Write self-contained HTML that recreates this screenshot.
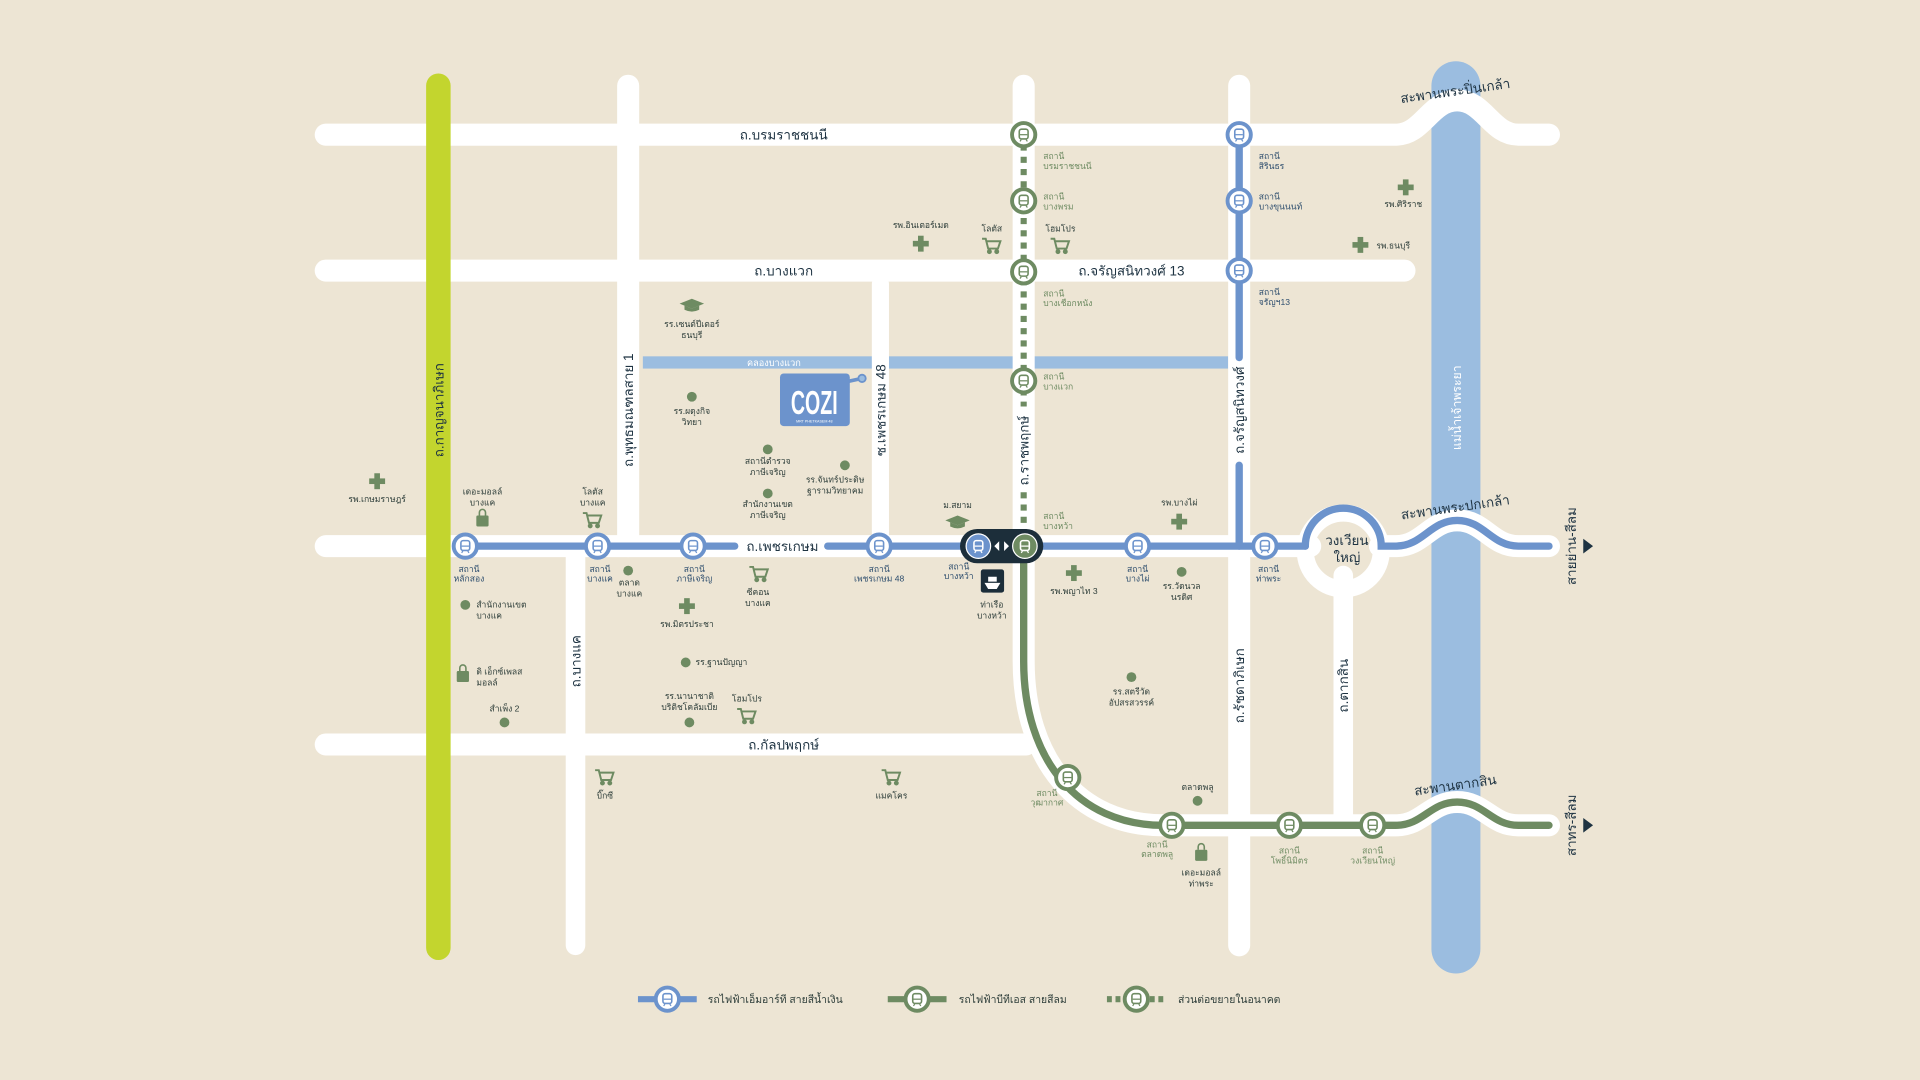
<!DOCTYPE html>
<html><head><meta charset="utf-8">
<style>
html,body{margin:0;padding:0;background:#EDE5D4;}
svg{display:block;}
text{font-family:"Liberation Sans","Noto Sans CJK SC",sans-serif;}
.rd{fill:#1E3342;font-size:11px;}
.st{fill:#6E8B62;font-size:7px;}
.sb{fill:#2E4E6E;font-size:7px;}
.pl{fill:#2E3E3A;font-size:7px;}
</style></head>
<body>
<svg width="1920" height="1080" viewBox="0 0 1568 882" xmlns="http://www.w3.org/2000/svg">
<defs>
<g id="tr"><rect x="-3.6" y="-4.5" width="7.2" height="8" rx="1.8" fill="none" stroke-width="1.3"/><line x1="-3" y1="0" x2="3" y2="0" stroke-width="1"/><line x1="-2" y1="4" x2="-3" y2="5.5" stroke-width="1"/><line x1="2" y1="4" x2="3" y2="5.5" stroke-width="1"/></g>
<g id="sb"><circle r="9.5" fill="#fff" stroke="#6C93CC" stroke-width="3.2"/><use href="#tr" stroke="#6C93CC"/></g>
<g id="sg"><circle r="9.5" fill="#fff" stroke="#6E8B62" stroke-width="3.2"/><use href="#tr" stroke="#6E8B62"/></g>
<g id="cross"><rect x="-2.3" y="-6.5" width="4.6" height="13" fill="#6E8B62"/><rect x="-6.5" y="-2.3" width="13" height="4.6" fill="#6E8B62"/></g>
<g id="cart" fill="none" stroke="#6E8B62" stroke-width="1.6"><path d="M-8 -5 H-5 L-3 3 H5 L7 -3 H-4"/><circle cx="-2" cy="5.5" r="1.2" fill="#6E8B62"/><circle cx="4" cy="5.5" r="1.2" fill="#6E8B62"/></g>
<g id="bag"><rect x="-5" y="-3" width="10" height="9" rx="1" fill="#6E8B62"/><path d="M-2.5 -3 V-5.5 A2.5 2.5 0 0 1 2.5 -5.5 V-3" fill="none" stroke="#6E8B62" stroke-width="1.3"/></g>
<g id="cap"><path d="M-10 0 L0 -4 L10 0 L0 4Z" fill="#6E8B62"/><path d="M-6 1.5 V5 Q0 8 6 5 V1.5 L0 4Z" fill="#6E8B62"/></g>
</defs>
<rect width="1568" height="882" fill="#EDE5D4"/>

<line x1="1189" y1="70" x2="1189" y2="775" stroke="#9BBDE0" stroke-width="40" stroke-linecap="round"/>
<text transform="translate(1193,333) rotate(-90)" text-anchor="middle" fill="#fff" font-size="10">แม่น้ำเจ้าพระยา</text>

<rect x="525" y="291" width="478" height="10" fill="#9BBDE0"/>
<text x="632" y="299" text-anchor="middle" fill="#fff" font-size="7.5">คลองบางแวก</text>

<g stroke="#fff" stroke-linecap="round" fill="none">
<path d="M266 110 H1140 C1162 110 1168 82 1190 82 C1212 82 1218 110 1240 110 H1265" stroke-width="18"/>
<path d="M266 221 H1147" stroke-width="18"/>
<path d="M266 446 H1070" stroke-width="18"/>
<path d="M266 608 H838" stroke-width="18"/>
<path d="M513 70 V446" stroke-width="18"/>
<path d="M470 446 V772" stroke-width="16"/>
<path d="M719 232 V446" stroke-width="14"/>
<path d="M836 70 V446" stroke-width="18"/>
<path d="M1012 70 V772" stroke-width="18"/>
<path d="M1097 470 V670" stroke-width="16"/>
<circle cx="1097" cy="450" r="31" stroke-width="14"/>
<path d="M1127 446 H1140 C1162 446 1168 425 1190 425 C1212 425 1218 446 1240 446 H1265" stroke-width="18"/>
<path d="M836 446 V540 C836 620 880 674 950 674 H1140 C1162 674 1168 655 1190 655 C1212 655 1218 674 1240 674 H1265" stroke-width="18"/>
</g>
<rect x="600" y="438" width="76" height="16" fill="#fff"/>

<line x1="358" y1="70" x2="358" y2="774" stroke="#C3D52E" stroke-width="20" stroke-linecap="round"/>

<g stroke="#6C93CC" stroke-width="6" fill="none" stroke-linecap="round">
<path d="M380 446 H600"/><path d="M676 446 H1066"/>
<path d="M1066 446 A31 31 0 0 1 1128 446 H1140 C1162 446 1168 425 1190 425 C1212 425 1218 446 1240 446 H1265"/>
<path d="M1012 110 V292"/><path d="M1012 380 V446"/>
</g>
<g stroke="#6E8B62" stroke-width="6" fill="none" stroke-linecap="round">
<path d="M836 446 V540 C836 620 880 674 950 674 H1140 C1162 674 1168 655 1190 655 C1212 655 1218 674 1240 674 H1265"/>
</g>
<path d="M836 118 V332 M836 402 V436" stroke="#6E8B62" stroke-width="5" stroke-dasharray="5,5" fill="none"/>
<path d="M1293 440 L1301 446 L1293 452Z M1293 668 L1301 674 L1293 680Z" fill="#1E3342"/>

<use href="#sb" x="380" y="446"/><use href="#sb" x="488" y="446"/><use href="#sb" x="566" y="446"/>
<use href="#sb" x="718" y="446"/><use href="#sb" x="929" y="446"/><use href="#sb" x="1033" y="446"/>
<use href="#sb" x="1012" y="110"/><use href="#sb" x="1012" y="164"/><use href="#sb" x="1012" y="221"/>
<use href="#sg" x="836" y="110"/><use href="#sg" x="836" y="164"/><use href="#sg" x="836" y="222"/><use href="#sg" x="836" y="311"/>
<use href="#sg" x="872" y="635"/><use href="#sg" x="957" y="674"/><use href="#sg" x="1053" y="674"/><use href="#sg" x="1121" y="674"/>
<rect x="784" y="432" width="68" height="28" rx="14" fill="#1C2E3A"/>
<circle cx="799" cy="446" r="10" fill="#6C93CC" stroke="#fff" stroke-width="1"/><use href="#tr" x="799" y="446" stroke="#fff"/>
<circle cx="837" cy="446" r="10" fill="#6E8B62" stroke="#fff" stroke-width="1"/><use href="#tr" x="837" y="446" stroke="#fff"/>
<path d="M816 442 L812 446 L816 450Z M820 442 L824 446 L820 450Z" fill="#fff"/>
<rect x="801" y="465" width="19" height="19" rx="2" fill="#1C2E3A"/>
<path d="M804 476 H817 L814 481 H807Z M807 475 V471 H814 V475" fill="#fff"/>

<text x="640" y="114" class="rd" text-anchor="middle">ถ.บรมราชชนนี</text>
<text x="640" y="225" class="rd" text-anchor="middle">ถ.บางแวก</text>
<text x="924" y="225" class="rd" text-anchor="middle">ถ.จรัญสนิทวงศ์ 13</text>
<text x="639" y="450" class="rd" text-anchor="middle">ถ.เพชรเกษม</text>
<text x="640" y="612" class="rd" text-anchor="middle">ถ.กัลปพฤกษ์</text>
<text transform="translate(362,335) rotate(-90)" class="rd" text-anchor="middle">ถ.กาญจนาภิเษก</text>
<text transform="translate(517,335) rotate(-90)" class="rd" text-anchor="middle">ถ.พุทธมณฑลสาย 1</text>
<text transform="translate(474,540) rotate(-90)" class="rd" text-anchor="middle">ถ.บางแค</text>
<text transform="translate(723,335) rotate(-90)" class="rd" text-anchor="middle">ซ.เพชรเกษม 48</text>
<text transform="translate(840,368) rotate(-90)" class="rd" text-anchor="middle">ถ.ราชพฤกษ์</text>
<text transform="translate(1016,335) rotate(-90)" class="rd" text-anchor="middle">ถ.จรัญสนิทวงศ์</text>
<text transform="translate(1016,560) rotate(-90)" class="rd" text-anchor="middle">ถ.รัชดาภิเษก</text>
<text transform="translate(1101,560) rotate(-90)" class="rd" text-anchor="middle">ถ.ตากสิน</text>
<text transform="translate(1287,446) rotate(-90)" class="rd" text-anchor="middle">สายย่าน-สีลม</text>
<text transform="translate(1287,674) rotate(-90)" class="rd" text-anchor="middle">สาทร-สีลม</text>
<text x="1100" y="445" class="rd" text-anchor="middle" font-size="10">วงเวียน</text>
<text x="1100" y="459" class="rd" text-anchor="middle" font-size="10">ใหญ่</text>
<text transform="translate(1189,78) rotate(-8)" class="rd" text-anchor="middle" font-size="10.5">สะพานพระปิ่นเกล้า</text>
<text transform="translate(1189,418) rotate(-8)" class="rd" text-anchor="middle" font-size="10.5">สะพานพระปกเกล้า</text>
<text transform="translate(1189,645) rotate(-8)" class="rd" text-anchor="middle" font-size="10.5">สะพานตากสิน</text>

<g class="st">
<text x="852" y="130">สถานี</text><text x="852" y="138">บรมราชชนนี</text>
<text x="852" y="163">สถานี</text><text x="852" y="171">บางพรม</text>
<text x="852" y="242">สถานี</text><text x="852" y="250">บางเชือกหนัง</text>
<text x="852" y="310">สถานี</text><text x="852" y="318">บางแวก</text>
<text x="852" y="424">สถานี</text><text x="852" y="432">บางหว้า</text>
<text x="855" y="650" text-anchor="middle">สถานี</text><text x="855" y="658" text-anchor="middle">วุฒากาศ</text>
<text x="945" y="692" text-anchor="middle">สถานี</text><text x="945" y="700" text-anchor="middle">ตลาดพลู</text>
<text x="1053" y="697" text-anchor="middle">สถานี</text><text x="1053" y="705" text-anchor="middle">โพธิ์นิมิตร</text>
<text x="1121" y="697" text-anchor="middle">สถานี</text><text x="1121" y="705" text-anchor="middle">วงเวียนใหญ่</text>
</g>
<g class="sb">
<text x="1028" y="130">สถานี</text><text x="1028" y="138">สิรินธร</text>
<text x="1028" y="163">สถานี</text><text x="1028" y="171">บางขุนนนท์</text>
<text x="1028" y="241">สถานี</text><text x="1028" y="249">จรัญฯ13</text>
<text x="383" y="467" text-anchor="middle">สถานี</text><text x="383" y="475" text-anchor="middle">หลักสอง</text>
<text x="490" y="467" text-anchor="middle">สถานี</text><text x="490" y="475" text-anchor="middle">บางแค</text>
<text x="567" y="467" text-anchor="middle">สถานี</text><text x="567" y="475" text-anchor="middle">ภาษีเจริญ</text>
<text x="718" y="467" text-anchor="middle">สถานี</text><text x="718" y="475" text-anchor="middle">เพชรเกษม 48</text>
<text x="783" y="465" text-anchor="middle">สถานี</text><text x="783" y="473" text-anchor="middle">บางหว้า</text>
<text x="929" y="467" text-anchor="middle">สถานี</text><text x="929" y="475" text-anchor="middle">บางไผ่</text>
<text x="1036" y="467" text-anchor="middle">สถานี</text><text x="1036" y="475" text-anchor="middle">ท่าพระ</text>
</g>

<g class="pl">
<use href="#cross" x="308" y="393"/><text x="308" y="410" text-anchor="middle">รพ.เกษมราษฎร์</text>
<text x="394" y="404" text-anchor="middle">เดอะมอลล์</text><text x="394" y="413" text-anchor="middle">บางแค</text><use href="#bag" x="394" y="424"/>
<text x="484" y="404" text-anchor="middle">โลตัส</text><text x="484" y="413" text-anchor="middle">บางแค</text><use href="#cart" x="484" y="424"/>
<circle cx="513" cy="466" r="4" fill="#6E8B62"/><text x="514" y="478" text-anchor="middle">ตลาด</text><text x="514" y="487" text-anchor="middle">บางแค</text>
<circle cx="380" cy="494" r="4" fill="#6E8B62"/><text x="389" y="496">สำนักงานเขต</text><text x="389" y="505">บางแค</text>
<use href="#bag" x="378" y="551"/><text x="389" y="551">ดิ เอ็กซ์เพลส</text><text x="389" y="560">มอลล์</text>
<text x="412" y="581" text-anchor="middle">สำเพ็ง 2</text><circle cx="412" cy="590" r="4" fill="#6E8B62"/>
<use href="#cart" x="620" y="468"/><text x="619" y="486" text-anchor="middle">ซีคอน</text><text x="619" y="495" text-anchor="middle">บางแค</text>
<use href="#cross" x="561" y="495"/><text x="561" y="512" text-anchor="middle">รพ.มิตรประชา</text>
<circle cx="560" cy="541" r="4" fill="#6E8B62"/><text x="568" y="543">รร.ฐานปัญญา</text>
<text x="563" y="571" text-anchor="middle">รร.นานาชาติ</text><text x="563" y="580" text-anchor="middle">บริติชโคลัมเบีย</text><circle cx="563" cy="590" r="4" fill="#6E8B62"/>
<text x="610" y="573" text-anchor="middle">โฮมโปร</text><use href="#cart" x="610" y="584"/>
<use href="#cart" x="494" y="634"/><text x="494" y="652" text-anchor="middle">บิ๊กซี</text>
<use href="#cart" x="728" y="634"/><text x="728" y="652" text-anchor="middle">แมคโคร</text>
<use href="#cap" x="565" y="248"/><text x="565" y="267" text-anchor="middle">รร.เซนต์ปีเตอร์</text><text x="565" y="276" text-anchor="middle">ธนบุรี</text>
<circle cx="565" cy="324" r="4" fill="#6E8B62"/><text x="565" y="338" text-anchor="middle">รร.ผดุงกิจ</text><text x="565" y="347" text-anchor="middle">วิทยา</text>
<circle cx="627" cy="367" r="4" fill="#6E8B62"/><text x="627" y="379" text-anchor="middle">สถานีตำรวจ</text><text x="627" y="388" text-anchor="middle">ภาษีเจริญ</text>
<circle cx="627" cy="403" r="4" fill="#6E8B62"/><text x="627" y="414" text-anchor="middle">สำนักงานเขต</text><text x="627" y="423" text-anchor="middle">ภาษีเจริญ</text>
<circle cx="690" cy="380" r="4" fill="#6E8B62"/><text x="682" y="394" text-anchor="middle">รร.จันทร์ประดิษ</text><text x="682" y="403" text-anchor="middle">ฐารามวิทยาคม</text>
<text x="782" y="415" text-anchor="middle">ม.สยาม</text><use href="#cap" x="782" y="425"/>
<text x="810" y="496" text-anchor="middle">ท่าเรือ</text><text x="810" y="505" text-anchor="middle">บางหว้า</text>
<text x="752" y="186" text-anchor="middle">รพ.อินเตอร์เมด</text><use href="#cross" x="752" y="199"/>
<text x="810" y="189" text-anchor="middle">โลตัส</text><use href="#cart" x="810" y="200"/>
<text x="866" y="189" text-anchor="middle">โฮมโปร</text><use href="#cart" x="866" y="200"/>
<use href="#cross" x="1148" y="153"/><text x="1146" y="169" text-anchor="middle">รพ.ศิริราช</text>
<use href="#cross" x="1111" y="200"/><text x="1124" y="203">รพ.ธนบุรี</text>
<text x="963" y="413" text-anchor="middle">รพ.บางไผ่</text><use href="#cross" x="963" y="426"/>
<use href="#cross" x="877" y="468"/><text x="877" y="485" text-anchor="middle">รพ.พญาไท 3</text>
<circle cx="965" cy="467" r="4" fill="#6E8B62"/><text x="965" y="481" text-anchor="middle">รร.วัดนวล</text><text x="965" y="490" text-anchor="middle">นรดิศ</text>
<circle cx="924" cy="553" r="4" fill="#6E8B62"/><text x="924" y="567" text-anchor="middle">รร.สตรีวัด</text><text x="924" y="576" text-anchor="middle">อัปสรสวรรค์</text>
<text x="978" y="645" text-anchor="middle">ตลาดพลู</text><circle cx="978" cy="654" r="4" fill="#6E8B62"/>
<use href="#bag" x="981" y="697"/><text x="981" y="715" text-anchor="middle">เดอะมอลล์</text><text x="981" y="724" text-anchor="middle">ท่าพระ</text>
</g>

<rect x="637" y="305" width="57" height="43" rx="3" fill="#6C93CC"/>
<path d="M690 312 L704 309" stroke="#6C93CC" stroke-width="3"/>
<circle cx="704" cy="309" r="3" fill="#9BBDE0" stroke="#6C93CC" stroke-width="1.5"/>
<text transform="translate(665,338) scale(0.8,1.35)" text-anchor="middle" fill="#fff" font-size="20" font-weight="bold">COZI</text>
<text x="665" y="345" text-anchor="middle" fill="#fff" font-size="3">MRT PHETKASEM 48</text>

<line x1="521" y1="816" x2="569" y2="816" stroke="#6C93CC" stroke-width="5"/>
<use href="#sb" x="545" y="816"/>
<text x="578" y="819" fill="#2E3E3A" font-size="8.5">รถไฟฟ้าเอ็มอาร์ที สายสีน้ำเงิน</text>
<line x1="725" y1="816" x2="773" y2="816" stroke="#6E8B62" stroke-width="5"/>
<use href="#sg" x="749" y="816"/>
<text x="783" y="819" fill="#2E3E3A" font-size="8.5">รถไฟฟ้าบีทีเอส สายสีลม</text>
<line x1="904" y1="816" x2="952" y2="816" stroke="#6E8B62" stroke-width="5" stroke-dasharray="4,3"/>
<use href="#sg" x="928" y="816"/>
<text x="962" y="819" fill="#2E3E3A" font-size="8.5">ส่วนต่อขยายในอนาคต</text>
</svg>
</body></html>
